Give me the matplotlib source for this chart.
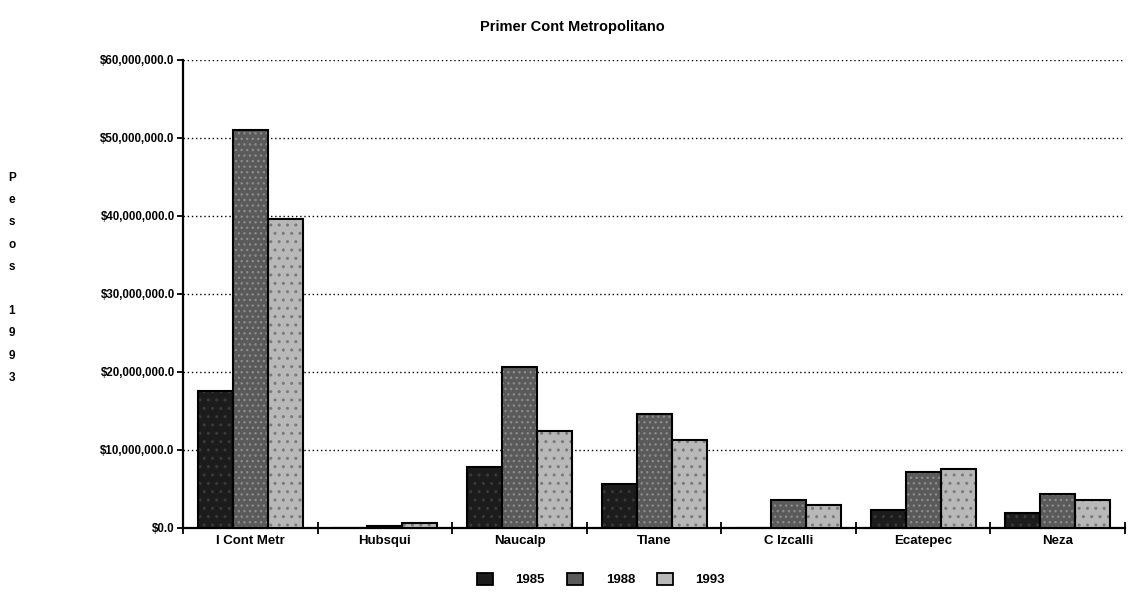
import matplotlib
matplotlib.use("Agg")
import matplotlib.pyplot as plt
import numpy as np
from matplotlib.ticker import FuncFormatter
from matplotlib.patches import Patch

plt.rcParams['font.family'] = ['Liberation Sans', 'DejaVu Sans']
plt.rcParams['hatch.linewidth'] = 1.0

categories = ["I Cont Metr", "Hubsqui", "Naucalp", "Tlane", "C Izcalli", "Ecatepec", "Neza"]
series_names = ["1985", "1988", "1993"]
v1985 = [17.6e6, 0.0, 7.8e6, 5.6e6, 0.0, 2.3e6, 1.9e6]
v1988 = [51.0e6, 0.2e6, 20.6e6, 14.6e6, 3.6e6, 7.2e6, 4.3e6]
v1993 = [39.6e6, 0.6e6, 12.4e6, 11.3e6, 3.0e6, 7.6e6, 3.6e6]
yticks = [0, 10e6, 20e6, 30e6, 40e6, 50e6, 60e6]

colors = ["#1c1c1c", "#5a5a5a", "#b8b8b8"]
hatch_colors = ["#3a3a3a", "#8a8a8a", "#7a7a7a"]
hatches = ["..", "...", ".."]

fig = plt.figure(figsize=(11.29, 6.0), dpi=100)
ax = fig.add_axes([0.1621, 0.12, 0.8344, 0.78])

x = np.arange(len(categories))
w = 0.26
for i, vals in enumerate([v1985, v1988, v1993]):
    ax.bar(x + (i - 1) * w, vals, width=w, color=colors[i], edgecolor=hatch_colors[i],
           hatch=hatches[i], linewidth=0, zorder=3)
    ax.bar(x + (i - 1) * w, vals, width=w, facecolor="none", edgecolor="black",
           linewidth=1.5, zorder=4)

ax.set_xlim(-0.5, len(categories) - 0.5)
ax.set_ylim(0, 60e6)
ax.set_yticks(yticks)
ax.yaxis.set_major_formatter(FuncFormatter(lambda v, p: "${:,.1f}".format(v)))
for t in yticks[1:]:
    ax.axhline(t, color="black", linestyle=(0, (1, 2)), linewidth=1.0, zorder=1)

ax.set_xticks(x)
ax.set_xticklabels(categories)
ax.set_xticks(np.arange(-0.5, len(categories)), minor=True)
ax.tick_params(axis="x", which="major", length=0, pad=5, labelsize=9.5)
ax.tick_params(axis="x", which="minor", direction="inout", length=8, width=1.3)
ax.tick_params(axis="y", direction="out", length=4, width=1.3, labelsize=8.3, pad=2)
for lab in ax.get_xticklabels() + ax.get_yticklabels():
    lab.set_fontweight("bold")

for s in ["top", "right"]:
    ax.spines[s].set_visible(False)
ax.spines["left"].set_linewidth(1.6)
ax.spines["bottom"].set_linewidth(1.6)

fig.text(572 / 1129, 1 - 27 / 600, "Primer Cont Metropolitano", ha="center", va="center",
         fontsize=10.5, fontweight="bold")

ylab = "Pesos 1993"
for k, ch in enumerate(ylab):
    fig.text(12 / 1129, 1 - (178 + k * 22.2) / 600, ch, ha="center", va="center",
             fontsize=8.5, fontweight="bold")

leg_handles = [Patch(facecolor=colors[i], edgecolor="black", linewidth=1.3)
               for i in range(3)]
leg = ax.legend(leg_handles, series_names, loc="center", bbox_to_anchor=(0.444, -0.11),
                ncol=3, frameon=False, fontsize=9.5, handlelength=1.2, handleheight=1.1,
                columnspacing=1.7, handletextpad=1.7)
for t in leg.get_texts():
    t.set_fontweight("bold")

fig.savefig("out.png", dpi=100)
